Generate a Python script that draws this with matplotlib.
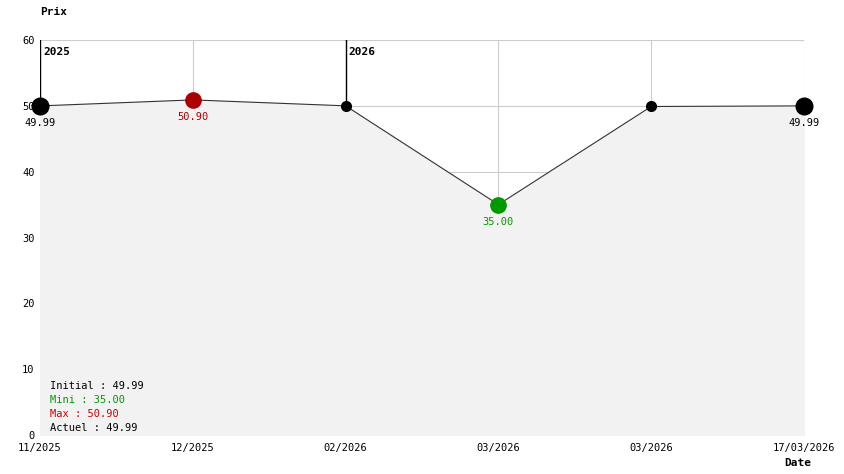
import matplotlib
matplotlib.use("Agg")
import matplotlib.pyplot as plt

dates = ["11/2025", "12/2025", "02/2026", "03/2026", "03/2026", "17/03/2026"]
prices = [49.99, 50.90, 50.00, 35.00, 49.90, 49.99]
year_marks = [(0, "2025"), (2, "2026")]
labels_info = [("Initial : 49.99", "black"), ("Mini : 35.00", "#009900"),
               ("Max : 50.90", "#cc0000"), ("Actuel : 49.99", "black")]

W, H = 844, 474
fig = plt.figure(figsize=(W/100, H/100), dpi=100)
ax = fig.add_axes([40/W, 1-435/H, 764/W, 395/H])
x = list(range(len(prices)))
ax.set_xlim(0, len(prices)-1)
ax.set_ylim(0, 60)
for s in ax.spines.values():
    s.set_visible(False)
for xv in x:
    ax.axvline(xv, color="#cccccc", lw=0.8, zorder=0)
for yv in range(10, 61, 10):
    ax.axhline(yv, color="#cccccc", lw=0.8, zorder=0)
ax.fill_between(x, prices, 0, color="#f2f2f2", zorder=1)
for i, t in year_marks:
    ax.plot([i, i], [prices[i], 60], color="black", lw=1, zorder=2)
    ax.text(i+0.02, 59, t, fontsize=8, fontweight="bold", family="DejaVu Sans Mono", va="top", ha="left")
ax.plot(x, prices, color="#333333", lw=0.8, zorder=3)
imin = prices.index(min(prices)); imax = prices.index(max(prices))
for i, p in enumerate(prices):
    if i == imin:
        c, s = "#009900", 11
    elif i == imax:
        c, s = "#aa0000", 11
    elif i in (0, len(prices)-1):
        c, s = "black", 12
    else:
        c, s = "black", 7
    ax.plot(i, p, "o", color=c, ms=s, zorder=4, clip_on=False)
    if i in (0, imin, imax, len(prices)-1):
        tc = c if i in (imin, imax) else "black"
        ax.annotate(f"{p:.2f}", (i, p), xytext=(0, -9), textcoords="offset points",
                    ha="center", va="top", fontsize=7.5, color=tc, family="DejaVu Sans Mono")
ax.set_xticks(x)
ax.set_xticklabels(dates, family="DejaVu Sans Mono", fontsize=7.5)
ax.set_yticks(range(0, 61, 10))
ax.tick_params(axis="y", labelsize=7.5, length=0, pad=4)
ax.tick_params(axis="x", length=0, pad=6)
for lab in ax.get_yticklabels():
    lab.set_family("DejaVu Sans Mono")
fig.text(40/W, 1-12/H, "Prix", fontsize=8, fontweight="bold", family="DejaVu Sans Mono", va="center")
fig.text(798/W, 1-463/H, "Date", fontsize=8, fontweight="bold", family="DejaVu Sans Mono", va="center", ha="center")
for k, (t, c) in enumerate(labels_info):
    fig.text(50/W, 1-(386+14*k)/H, t, fontsize=7.5, color=c, family="DejaVu Sans Mono", va="center")
fig.savefig("out.png", dpi=100)
